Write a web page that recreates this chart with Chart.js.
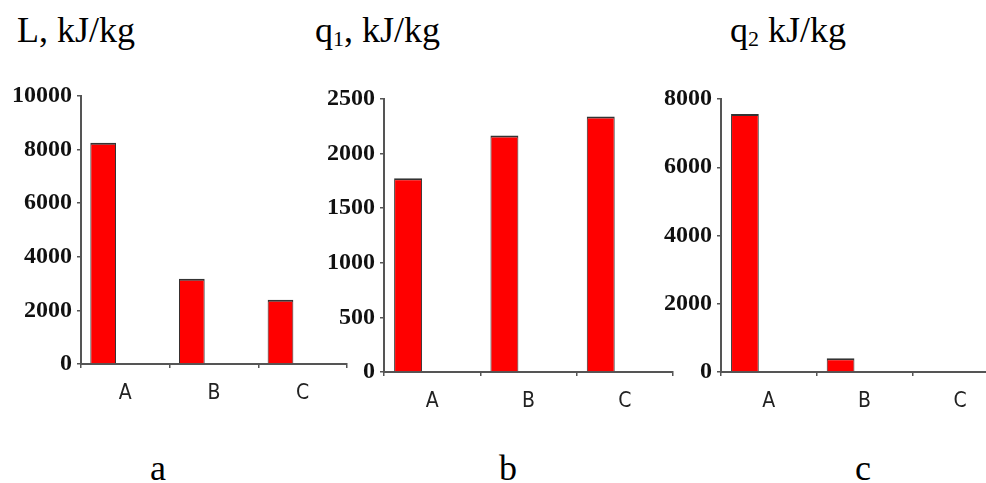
<!DOCTYPE html>
<html>
<head>
<meta charset="utf-8">
<script src="https://cdn.jsdelivr.net/npm/chart.js@4/dist/chart.umd.min.js"></script>
<style>
  html, body { margin: 0; padding: 0; background: #fff; overflow: hidden; }
  body { width: 986px; height: 483px; position: relative; }
  .box { position: absolute; }
  .txt { position: absolute; font-family: "Liberation Serif", "Times New Roman", serif; font-size: 36px; line-height: 36px; color: #000; white-space: nowrap; }
  .txt sub { font-size: 22px; vertical-align: -4px; line-height: 0; }
</style>
</head>
<body>
<div class="txt" style="left:17px; top:12px;">L, kJ/kg</div>
<div class="txt" style="left:315px; top:12px;">q<sub>1</sub>, kJ/kg</div>
<div class="txt" style="left:730px; top:12px;">q<sub>2</sub> kJ/kg</div>

<div class="box" style="left:0px; top:76px; width:350px; height:338px;"><canvas id="chartL"></canvas></div>
<div class="box" style="left:320px; top:79px; width:356px; height:343px;"><canvas id="chartQ1"></canvas></div>
<div class="box" style="left:661px; top:79px; width:350px; height:343px;"><canvas id="chartQ2"></canvas></div>

<div class="txt" style="left:150px; top:450px;">a</div>
<div class="txt" style="left:499px; top:450px;">b</div>
<div class="txt" style="left:855px; top:450px;">c</div>

<script>
// categories
const categories = ['A', 'B', 'C'];

// series values (kJ/kg)
const workL = [8260, 3180, 2400];
const heatQ1 = [1775, 2165, 2340];
const heatQ2 = [7560, 400, 0];

// empty second series, keeps the bars on the left of each category
const emptySeries = [null, null, null];

// y axis ranges
const maxL = 10000, stepL = 2000;
const maxQ1 = 2500, stepQ1 = 500;
const maxQ2 = 8000, stepQ2 = 2000;

const axisColor = '#555';

function makeChart(id, values, max, step, yWidth) {
    const ctx = document.getElementById(id);
    if (!ctx) return;

    new Chart(ctx, {
        type: 'bar',
        data: {
            labels: categories,
            datasets: [{
                data: values,
                backgroundColor: '#ff0000',
                borderColor: '#333',
                borderWidth: { top: 2, left: 1, right: 1, bottom: 0 },
                borderSkipped: false
            }, {
                data: emptySeries,
                backgroundColor: '#ff0000'
            }]
        },
        options: {
            responsive: true,
            maintainAspectRatio: false,
            animation: false,
            layout: {
                padding: { top: 20, left: 0, right: 3, bottom: 0 }
            },
            datasets: {
                bar: {
                    categoryPercentage: 1.0,
                    barPercentage: 0.58
                }
            },
            plugins: {
                legend: { display: false },
                tooltip: { enabled: false }
            },
            scales: {
                x: {
                    afterFit: scale => { scale.height = 50; },
                    border: { display: true, color: axisColor, width: 2 },
                    grid: {
                        drawOnChartArea: false,
                        color: axisColor,
                        tickLength: 4,
                        lineWidth: 1.5
                    },
                    ticks: {
                        color: '#222',
                        padding: 13,
                        font: { family: "'DejaVu Sans Condensed', 'Liberation Sans Narrow', sans-serif", size: 21 }
                    }
                },
                y: {
                    min: 0,
                    max: max,
                    afterFit: scale => { scale.width = yWidth; },
                    border: { display: true, color: axisColor, width: 2 },
                    grid: {
                        drawOnChartArea: false,
                        color: axisColor,
                        tickLength: 4,
                        lineWidth: 1.5
                    },
                    ticks: {
                        stepSize: step,
                        color: '#111',
                        padding: 5,
                        callback: value => String(value),
                        font: { family: "'Liberation Serif', serif", size: 24, weight: 'bold' }
                    }
                }
            }
        }
    });
}

makeChart('chartL', workL, maxL, stepL, 81);
makeChart('chartQ1', heatQ1, maxQ1, stepQ1, 64);
makeChart('chartQ2', heatQ2, maxQ2, stepQ2, 60);
</script>
</body>
</html>
